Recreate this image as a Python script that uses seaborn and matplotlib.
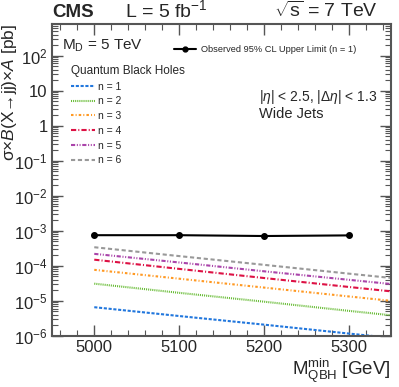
import numpy as np
import pandas as pd
import seaborn as sns
import matplotlib.pyplot as plt
from matplotlib.lines import Line2D
from matplotlib.ticker import FuncFormatter, LogLocator, MultipleLocator

# observed limit
obs_mass = [5000, 5100, 5200, 5300]
obs_limit = [7.5e-4, 7.5e-4, 7.1e-4, 7.4e-4]

# QBH predictions, n = 1..6
qbh_mass = [5000, 5100, 5200, 5300, 5400]
qbh_n1 = [6.6e-6, 3.7e-6, 2.1e-6, 1.17e-6, 6.6e-7]
qbh_n2 = [3.1e-5, 1.7e-5, 9.5e-6, 5.2e-6, 2.9e-6]
qbh_n3 = [7.7e-5, 4.3e-5, 2.4e-5, 1.34e-5, 7.5e-6]
qbh_n4 = [1.5e-4, 8.2e-5, 4.5e-5, 2.5e-5, 1.4e-5]
qbh_n5 = [2.2e-4, 1.25e-4, 7.0e-5, 4.0e-5, 2.3e-5]
qbh_n6 = [3.4e-4, 1.9e-4, 1.07e-4, 6.0e-5, 3.4e-5]
qbh_labels = ["n = 1", "n = 2", "n = 3", "n = 4", "n = 5", "n = 6"]

colors = ["#2277dd", "#66bb33", "#ff9922", "#dd1144", "#aa44aa", "#999999"]
dashes = [(1.5, 0.8), (0.5, 0.5), (1.2, 1, 0.5, 1), (2.5, 1, 0.5, 1),
          (2, 0.8, 0.5, 0.8, 0.5, 0.8), (2, 1.3)]

sns.set_style("ticks")
plt.rcParams['font.family'] = ['Liberation Sans', 'DejaVu Sans']
plt.rcParams['mathtext.fontset'] = 'custom'
plt.rcParams['mathtext.rm'] = 'Liberation Sans'
plt.rcParams['mathtext.it'] = 'Liberation Sans:italic'

df = pd.DataFrame({
    "mass": qbh_mass * 6,
    "xs": qbh_n1 + qbh_n2 + qbh_n3 + qbh_n4 + qbh_n5 + qbh_n6,
    "n": [l for l in qbh_labels for _ in qbh_mass],
})

fig = plt.figure(figsize=(3.99, 3.87), dpi=100)
ax = fig.add_axes([0.130, 0.132, 0.850, 0.806])

sns.lineplot(data=df, x="mass", y="xs", hue="n", style="n", palette=colors,
             dashes=dashes, linewidth=1.5, ax=ax, legend=False)
ax.plot(obs_mass, obs_limit, color="black", lw=1.5, marker="o", ms=4)

ax.set_yscale("log")
ax.set_xlim(4950, 5350)
ax.set_ylim(1e-6, 8e2)

ax.xaxis.set_major_locator(MultipleLocator(100))
ax.xaxis.set_minor_locator(MultipleLocator(20))
ax.yaxis.set_major_locator(LogLocator(base=10, numticks=20))
ax.yaxis.set_minor_locator(LogLocator(base=10, subs=np.arange(2, 10), numticks=20))

def yfmt(v, pos):
    e = int(round(np.log10(v)))
    if e == 0:
        return "1"
    if e == 1:
        return "10"
    return r"$10^{%d}$" % e

ax.yaxis.set_major_formatter(FuncFormatter(yfmt))
ax.tick_params(which="both", direction="in", top=True, right=True, labelsize=12,
               color="#555555", pad=3)
ax.tick_params(which="major", length=8, width=1)
ax.tick_params(which="minor", length=4, width=0.8)
for s in ax.spines.values():
    s.set_color("#555555")
    s.set_linewidth(1.5)

ax.set_xlabel(r"M$_{\rm QBH}^{\rm min}$ [GeV]", fontsize=13.5, loc="right", labelpad=1)
ax.set_ylabel(r"σ×$B$(X→jj)×$A$ [pb]", fontsize=12.5, loc="top")
ax.yaxis.set_label_coords(-0.096, 1.0)

fig.text(0.132, 0.956, "CMS", fontsize=13.5, fontweight="bold", va="baseline")
fig.text(0.313, 0.956, r"L = 5 fb$^{-1}$", fontsize=14, va="baseline")
fig.text(0.947, 0.956, r"$\sqrt{\rm s}$ = 7 TeV", fontsize=14, va="baseline", ha="right")

ax.text(0.03, 0.93, r"M$_{\rm D}$ = 5 TeV", transform=ax.transAxes, fontsize=11, va="center")
ax.text(0.61, 0.765, r"|$\eta$| < 2.5, |$\Delta\eta$| < 1.3", transform=ax.transAxes,
        fontsize=10, va="center")
ax.text(0.61, 0.712, "Wide Jets", transform=ax.transAxes, fontsize=10.5, va="center")

obs_handle = [Line2D([], [], color="black", lw=1.5, marker="o", ms=3.5)]
leg1 = ax.legend(obs_handle, ["Observed 95% CL Upper Limit (n = 1)"], loc="center left",
                 bbox_to_anchor=(0.345, 0.917), frameon=False, fontsize=6.7,
                 handlelength=2.4, handletextpad=0.6, borderpad=0)
ax.add_artist(leg1)

qbh_handles = [Line2D([], [], color=c, lw=1.5, dashes=d) for c, d in zip(colors, dashes)]
leg2 = ax.legend(qbh_handles, qbh_labels, title="Quantum Black Holes", loc="upper left",
                 bbox_to_anchor=(0.04, 0.885), frameon=False, fontsize=7.5, title_fontsize=8.5,
                 handlelength=2.3, handletextpad=0.3, labelspacing=0.45, borderpad=0,
                 alignment="left")

fig.savefig("out.png", dpi=100)
